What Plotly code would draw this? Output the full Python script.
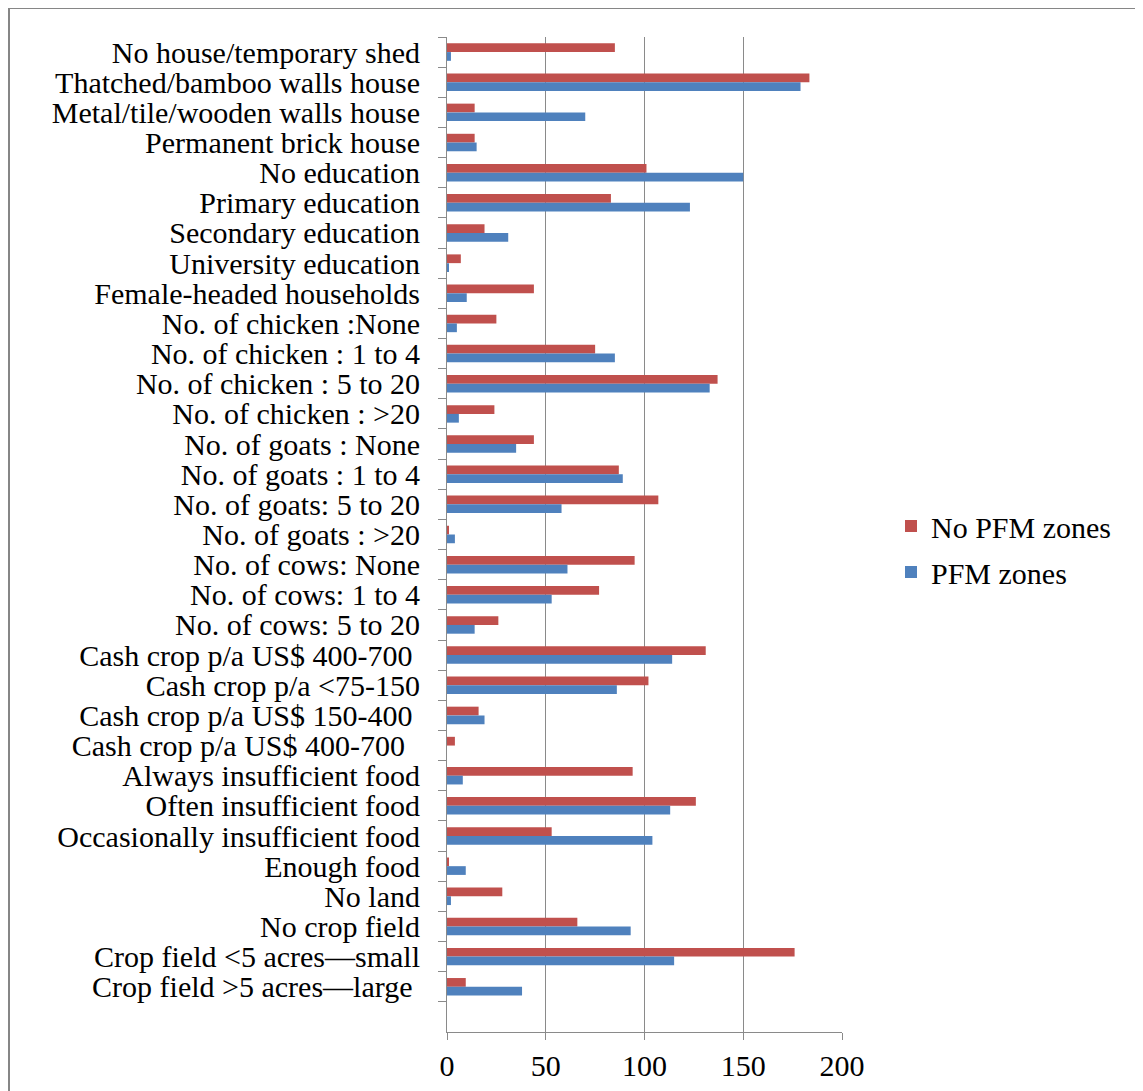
import plotly.graph_objects as go

categories = [
    "No house/temporary shed",
    "Thatched/bamboo walls house",
    "Metal/tile/wooden walls house",
    "Permanent brick house",
    "No education",
    "Primary education",
    "Secondary education",
    "University education",
    "Female-headed households",
    "No. of chicken :None",
    "No. of chicken : 1 to 4",
    "No. of chicken : 5 to 20",
    "No. of chicken : >20",
    "No. of goats : None",
    "No. of goats : 1 to 4",
    "No. of goats: 5 to 20",
    "No. of goats : >20",
    "No. of cows: None",
    "No. of cows: 1 to 4",
    "No. of cows: 5 to 20",
    "Cash crop p/a US$ 400-700 ",
    "Cash crop p/a <75-150",
    "Cash crop p/a US$ 150-400 ",
    "Cash crop p/a US$ 400-700  ",
    "Always insufficient food",
    "Often insufficient food",
    "Occasionally insufficient food",
    "Enough food",
    "No land",
    "No crop field",
    "Crop field <5 acres\u2014small",
    "Crop field >5 acres\u2014large ",
    " ",
]

no_pfm = [85, 183.5, 14, 14, 101, 83, 19, 7, 44, 25, 75, 137, 24, 44, 87, 107,
          1, 95, 77, 26, 131, 102, 16, 4, 94, 126, 53, 1, 28, 66, 176, 9.5, None]
pfm = [2, 179, 70, 15, 150, 123, 31, 1, 10, 5, 85, 133, 6, 35, 89, 58,
       4, 61, 53, 14, 114, 86, 19, 0, 8, 113, 104, 9.5, 2, 93, 115, 38, None]

series_names = ["No PFM zones", "PFM zones"]
series_colors = ["#C0504D", "#4F81BD"]

x_ticks = [0, 50, 100, 150, 200]

FONT = "Liberation Serif"
FS = 30
GRID = "#8a8a8a"

fig = go.Figure()
for name, vals, col in zip(series_names, [no_pfm, pfm], series_colors):
    fig.add_trace(go.Bar(
        y=categories, x=vals, name=name, orientation="h",
        legendgroup=name,
        marker=dict(color=col, line=dict(width=0)),
    ))

# page body has an 8px offset; work in viewport pixels
OFF = 8
W, H = 1143, 1091
PL, PR, PT, PB = 447, 842, 37, 1032   # plot area in viewport px
L = PL - OFF
T = PT - OFF
pw = PR - PL
ph = PB - PT
R = W - L - pw
B = H - T - ph

def px2x(p):
    return (p - PL) / pw

def py2y(p):
    return 1 - (p - PT) / ph

fig.update_layout(
    width=W, height=H,
    margin=dict(l=L, r=R, t=T, b=B, pad=0),
    paper_bgcolor="white", plot_bgcolor="white",
    barmode="group", bargap=0.42, bargroupgap=0,
    font=dict(family=FONT, size=FS, color="black"),
    showlegend=True,
    legend=dict(
        x=px2x(891), y=py2y(549), xanchor="left", yanchor="middle",
        font=dict(family=FONT, size=FS, color="black"),
        bgcolor="rgba(0,0,0,0)", traceorder="grouped", tracegroupgap=4,
    ),
    xaxis=dict(
        range=[0, 200], tickvals=x_ticks, ticktext=[str(v) for v in x_ticks],
        showgrid=True, gridcolor=GRID, gridwidth=1,
        showline=True, linecolor=GRID, linewidth=1,
        ticks="outside", ticklen=7, tickcolor=GRID,
        zeroline=False, fixedrange=True,
        tickfont=dict(family=FONT, size=FS, color="black"),
    ),
    yaxis=dict(
        autorange="reversed", type="category",
        tickmode="linear", tick0=0, dtick=1,
        showgrid=False, showline=True, linecolor=GRID, linewidth=1,
        ticks="outside", ticklen=8, tickcolor=GRID, tickson="boundaries",
        ticklabelstandoff=20,
        tickfont=dict(family=FONT, size=FS, color="black"),
    ),
    shapes=[dict(
        type="rect", xref="paper", yref="paper",
        x0=px2x(9), x1=px2x(1170), y0=py2y(1120), y1=py2y(8),
        line=dict(color="#868686", width=2), fillcolor="rgba(0,0,0,0)",
        layer="below",
    )],
)

fig.write_html("out.html")
